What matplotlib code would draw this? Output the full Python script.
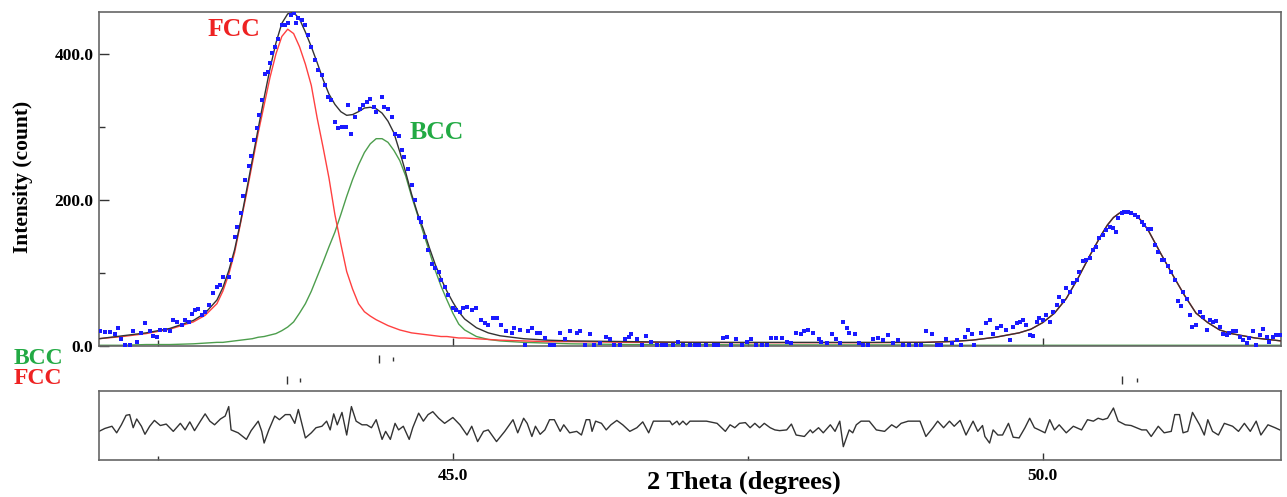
import matplotlib
matplotlib.use("Agg")
import matplotlib.pyplot as plt
from matplotlib.ticker import FixedLocator, FormatStrFormatter, NullFormatter

# 2-theta grid used for the calculated profiles
curve_2theta = [42.00, 42.20, 42.40, 42.60, 42.80, 42.90, 43.00, 43.05, 43.10, 43.15,
                43.20, 43.25, 43.30, 43.35, 43.40, 43.45, 43.50, 43.55, 43.60, 43.65,
                43.70, 43.75, 43.80, 43.85, 43.90, 43.95, 44.00, 44.05, 44.10, 44.15,
                44.20, 44.25, 44.30, 44.35, 44.40, 44.45, 44.50, 44.55, 44.60, 44.65,
                44.70, 44.75, 44.80, 44.85, 44.90, 44.95, 45.00, 45.05, 45.10, 45.20,
                45.30, 45.40, 45.60, 45.80, 46.00, 46.50, 47.00, 47.50, 48.00, 48.50,
                49.00, 49.20, 49.40, 49.60, 49.80, 49.90, 50.00, 50.10, 50.20, 50.30,
                50.40, 50.50, 50.55, 50.60, 50.65, 50.70, 50.75, 50.80, 50.85, 50.90,
                51.00, 51.10, 51.20, 51.30, 51.40, 51.50, 51.60, 51.80, 52.02]

total_calc = [10, 14, 18, 24, 35, 45, 63, 80, 103, 132,
              170, 212, 255, 298, 340, 380, 415, 442, 455, 457,
              448, 430, 410, 388, 365, 345, 331, 321, 316, 317,
              321, 326, 327, 325, 319, 308, 292, 266, 238, 208,
              182, 160, 135, 112, 92, 75, 60, 47, 37, 25,
              18, 14, 10, 8, 7, 6, 5, 5, 5, 5,
              5, 6, 8, 12, 18, 23, 32, 45, 65, 93,
              124, 153, 166, 176, 182, 185, 183, 178, 169, 157,
              127, 98, 70, 45, 32, 22, 17, 11, 7]

fcc_calc = [10, 13, 17, 23, 33, 42, 58, 75, 98, 128,
            168, 208, 250, 292, 330, 368, 400, 424, 434, 428,
            410, 386, 357, 312, 272, 230, 180, 140, 102, 78,
            58, 47, 41, 36, 32, 28, 25, 22, 20, 18,
            17, 16, 15, 14, 13, 13, 12, 11, 11, 10,
            9, 8, 7, 6, 6, 5, 5, 4.5, 4.5, 4.5,
            5, 6, 8, 12, 18, 23, 32, 45, 65, 93,
            124, 153, 166, 176, 182, 185, 183, 178, 169, 157,
            127, 98, 70, 45, 32, 22, 17, 11, 7]

bcc_calc = [1, 1, 2, 2, 3, 4, 5, 5, 6, 7,
            8, 9, 10, 12, 13, 15, 17, 21, 26, 33,
            45, 58, 75, 95, 115, 136, 156, 180, 205, 228,
            248, 265, 277, 284, 284, 279, 268, 254, 233, 205,
            180, 155, 130, 104, 82, 63, 45, 30, 22, 13,
            9, 7, 5, 4, 3, 2, 2, 1.5, 1.5, 1.5,
            1.5, 1, 1, 1, 1, 1, 1, 1, 1, 1,
            1, 1, 1, 1, 1, 1, 1, 1, 1, 1,
            1, 1, 1, 1, 1, 1, 1, 1, 1]

# observed intensities (blue points)
obs_2theta = [42.01, 42.05, 42.09, 42.14, 42.16, 42.19, 42.22, 42.26, 42.29, 42.32,
              42.36, 42.39, 42.43, 42.46, 42.49, 42.52, 42.56, 42.60, 42.63, 42.66,
              42.70, 42.73, 42.76, 42.79, 42.81, 42.84, 42.87, 42.90, 42.93, 42.97,
              43.00, 43.03, 43.05, 43.10, 43.12, 43.15, 43.17, 43.20, 43.22, 43.24,
              43.27, 43.29, 43.31, 43.34, 43.36, 43.38, 43.41, 43.43, 43.45, 43.47,
              43.49, 43.52, 43.55, 43.58, 43.60, 43.63, 43.65, 43.67, 43.69, 43.72,
              43.75, 43.77, 43.80, 43.83, 43.86, 43.89, 43.92, 43.94, 43.97, 44.00,
              44.03, 44.06, 44.09, 44.11, 44.14, 44.17, 44.21, 44.24, 44.27, 44.30,
              44.33, 44.35, 44.40, 44.42, 44.45, 44.48, 44.51, 44.54, 44.57, 44.59,
              44.62, 44.65, 44.68, 44.71, 44.73, 44.76, 44.79, 44.82, 44.85, 44.88,
              44.90, 44.93, 44.96,
              45.00, 45.03, 45.06, 45.09, 45.12, 45.16, 45.20, 45.24, 45.27, 45.30,
              45.34, 45.37, 45.41, 45.45, 45.50, 45.52, 45.57, 45.61, 45.64, 45.67,
              45.71, 45.74, 45.78, 45.82, 45.86, 45.91, 45.95, 45.99, 46.05, 46.08,
              46.12, 46.16, 46.20, 46.25, 46.30, 46.33, 46.37, 46.42, 46.46, 46.49,
              46.51, 46.56, 46.60, 46.64, 46.68, 46.73, 46.77, 46.81, 46.87, 46.91,
              46.95, 47.01, 47.05, 47.09, 47.15, 47.21, 47.25, 47.29, 47.32, 47.36,
              47.40, 47.45, 47.49, 47.53, 47.57, 47.62, 47.66, 47.70, 47.74, 47.79,
              47.83, 47.87, 47.91, 47.95, 47.98, 48.01, 48.05, 48.10, 48.12, 48.17,
              48.21, 48.25, 48.28, 48.31, 48.34, 48.36, 48.41, 48.44, 48.48, 48.52,
              48.56, 48.60,
              48.65, 48.69, 48.73, 48.77, 48.82, 48.87, 48.93, 48.97, 49.01, 49.06,
              49.10, 49.14, 49.18, 49.23, 49.27, 49.31, 49.34, 49.37, 49.40, 49.42,
              49.48, 49.52, 49.55, 49.58, 49.61, 49.65, 49.69, 49.72, 49.75, 49.78,
              49.81, 49.83, 49.86, 49.89, 49.92, 49.95, 49.97, 50.00, 50.03, 50.06,
              50.09, 50.12, 50.14, 50.17, 50.20, 50.23, 50.26, 50.29, 50.31, 50.34,
              50.37, 50.40, 50.43, 50.45, 50.48, 50.51, 50.54, 50.57, 50.60, 50.62,
              50.64, 50.67, 50.69, 50.72, 50.75, 50.78, 50.81, 50.84, 50.86, 50.89,
              50.92, 50.95, 50.98, 51.01, 51.03, 51.06, 51.09, 51.12, 51.15, 51.17,
              51.19, 51.22, 51.25, 51.27, 51.30, 51.33, 51.36, 51.39, 51.42, 51.44,
              51.47, 51.50, 51.53, 51.56, 51.58, 51.61, 51.64, 51.67, 51.70, 51.73,
              51.75, 51.78, 51.81, 51.84, 51.87, 51.90, 51.92, 51.95, 51.98, 52.01]

obs_counts = [20, 19, 19, 17, 25, 9, 1, 1, 21, 6,
              18, 31, 20, 14, 13, 22, 22, 21, 35, 33,
              29, 36, 33, 44, 50, 51, 42, 47, 56, 72,
              81, 84, 95, 95, 118, 150, 163, 182, 205, 227,
              246, 260, 282, 298, 316, 337, 373, 376, 387, 401,
              410, 421, 440, 440, 442, 454, 456, 442, 449, 446,
              440, 426, 410, 392, 378, 371, 357, 341, 337, 307,
              298, 300, 300, 330, 291, 314, 325, 330, 334, 339,
              328, 321, 341, 327, 325, 314, 291, 287, 268, 259,
              243, 220, 200, 175, 170, 150, 131, 113, 107, 102,
              90, 81, 70,
              52, 49, 47, 52, 54, 49, 52, 36, 31, 29,
              38, 38, 29, 20, 18, 25, 22, 1, 20, 25,
              18, 18, 11, 1, 1, 18, 9, 20, 18, 20,
              1, 16, 1, 4, 13, 9, 1, 1, 9, 13,
              16, 9, 1, 14, 6, 1, 1, 1, 1, 5,
              1, 1, 1, 1, 1, 1, 1, 11, 13, 1,
              9, 1, 6, 9, 1, 1, 1, 11, 11, 11,
              6, 4, 18, 16, 20, 22, 18, 9, 6, 4,
              16, 9, 4, 33, 25, 18, 16, 4, 1, 1,
              9, 11,
              8, 15, 4, 8, 2, 1, 1, 1, 21, 17,
              1, 1, 9, 4, 8, 1, 13, 22, 16, 2,
              18, 31, 36, 16, 24, 28, 22, 8, 26, 31,
              33, 36, 29, 15, 14, 33, 38, 36, 42, 33,
              47, 56, 67, 61, 79, 74, 86, 90, 102, 116,
              118, 120, 132, 136, 148, 152, 159, 163, 161, 156,
              175, 182, 184, 183, 182, 180, 177, 170, 166, 160,
              160, 138, 129, 118, 118, 109, 102, 90, 61, 55,
              74, 65, 42, 26, 29, 47, 40, 22, 36, 33,
              34, 26, 17, 15, 18, 20, 20, 13, 8, 4,
              11, 20, 1, 15, 23, 13, 6, 13, 15, 15]

# difference curve (observed - calculated)
diff_2theta = [42.00, 42.05, 42.11, 42.15, 42.19, 42.23, 42.26, 42.29, 42.32, 42.36,
               42.39, 42.43, 42.47, 42.52, 42.57, 42.63, 42.69, 42.73, 42.77, 42.81,
               42.86, 42.90, 42.94, 42.98, 43.03, 43.07, 43.10, 43.12, 43.18, 43.25,
               43.29, 43.35, 43.38, 43.40, 43.44, 43.49, 43.53, 43.58, 43.62, 43.66,
               43.69, 43.75, 43.80, 43.84, 43.89, 43.93, 43.96, 43.99, 44.02, 44.06,
               44.10, 44.14, 44.18, 44.23, 44.27, 44.31, 44.35, 44.40, 44.43, 44.47,
               44.51, 44.54, 44.58, 44.63, 44.66, 44.71, 44.75, 44.79, 44.83, 44.88,
               44.93, 45.00, 45.06, 45.12, 45.16, 45.21, 45.26, 45.30,
               45.37, 45.44, 45.51, 45.55, 45.60, 45.63, 45.67, 45.70, 45.74, 45.78,
               45.82, 45.86, 45.91, 45.94, 45.99, 46.05, 46.09, 46.13, 46.16, 46.18,
               46.21, 46.26, 46.30, 46.34, 46.39, 46.44, 46.50, 46.56, 46.61, 46.66,
               46.70, 46.73, 46.84, 46.86, 46.90, 46.92, 46.95, 46.98, 47.01, 47.15,
               47.24, 47.31, 47.35, 47.39, 47.43, 47.48, 47.52, 47.56, 47.60, 47.64,
               47.69, 47.73, 47.77, 47.83, 47.87, 47.91, 47.98, 48.03, 48.05, 48.10,
               48.14, 48.20, 48.24, 48.28, 48.31, 48.36, 48.39, 48.42, 48.46, 48.53,
               48.59,
               48.66, 48.72, 48.76, 48.80, 48.86, 48.96, 49.01, 49.07, 49.11, 49.16,
               49.21, 49.25, 49.30, 49.35, 49.41, 49.45, 49.49, 49.51, 49.55, 49.58,
               49.62, 49.66, 49.71, 49.75, 49.80, 49.85, 49.89, 49.93, 49.97, 50.02,
               50.06, 50.10, 50.14, 50.20, 50.26, 50.33, 50.38, 50.43, 50.47, 50.51,
               50.55, 50.60, 50.64, 50.70, 50.75, 50.84, 50.88, 50.92, 50.98, 51.03,
               51.09, 51.12, 51.16, 51.19, 51.23, 51.27, 51.33, 51.37, 51.40, 51.44,
               51.49, 51.54, 51.61, 51.66, 51.71, 51.76, 51.81, 51.85, 51.91, 51.97,
               52.01]

diff_counts = [-8, -4, -1, -10, 1, 14, 15, -3, 9, -1,
               -12, -1, 7, 0, 2, -8, 3, -6, 5, -7,
               6, 16, 6, 1, 9, 13, 26, -6, -10, -19,
               -7, 6, -8, -24, -6, 13, 8, 15, 15, 3,
               22, -17, -10, -3, -1, 6, -6, 16, 1, 18,
               -13, 26, 6, 1, 1, -3, 8, -19, -8, -19,
               3, -6, -1, -19, -3, 17, 6, 15, 19, 10,
               3, 11, 1, -13, -1, -22, -8, -6,
               -22, -8, 8, -10, 10, 3, -15, -1, -12, -6,
               8, 8, -8, 1, -10, -8, -13, 8, 8, -8,
               6, 3, -6, 1, 7, 1, -8, -3, 5, -10,
               6, 6, 6, 1, 6, 1, 6, 1, 6, 6,
               3, -8, 1, -3, 3, 4, -3, 3, -3, 3,
               -3, -6, -7, -6, 2, -13, -15, -6, -10, -3,
               -10, 1, -8, 6, -29, -6, -10, 1, 6, 6,
               -6,
               -8, 1, -3, 3, 6, 6, -15, -3, 6, -3,
               6, -1, 7, -13, 6, -8, 0, -15, -24, -6,
               -13, -13, 3, -16, -17, -3, 10, -3, -6, -10,
               8, -6, 1, -10, -1, -6, 8, 6, 10, 8,
               10, 24, 6, 1, 0, -6, -6, -15, -1, -10,
               -8, 15, 15, -10, -8, 18, 1, -13, 8, -8,
               -13, 3, -1, -8, 3, -8, 6, -13, 1, -3,
               -6]

# peak position markers (K-alpha1 / K-alpha2)
fcc_marks = [43.59, 43.70, 50.67, 50.80]
bcc_marks = [44.37, 44.49]
phase_labels = ["FCC", "BCC"]

RED = "#ff4040"
GREEN = "#4d9e4d"
FCC_TXT = "#ee2222"
BCC_TXT = "#22aa44"
FRAME = "#666666"

plt.rcParams["font.family"] = ["Liberation Serif", "DejaVu Serif"]
plt.rcParams["font.weight"] = "bold"

fig = plt.figure(figsize=(12.87, 4.97), dpi=100)
ax = fig.add_axes([0.0769, 0.3038, 0.9184, 0.6720])
ax_ref = fig.add_axes([0.0769, 0.2133, 0.9184, 0.0905])
ax_diff = fig.add_axes([0.0769, 0.0744, 0.9184, 0.1388])

x_range = (42.0, 52.02)

# main pattern
ax.plot(curve_2theta, bcc_calc, color=GREEN, lw=1.0, zorder=2)
ax.plot(curve_2theta, fcc_calc, color=RED, lw=1.0, zorder=3)
ax.plot(curve_2theta, total_calc, color="#333333", lw=1.0, zorder=4)
ax.plot(obs_2theta, obs_counts, ls="none", marker="s", ms=2.2, mew=0,
        color="#1a1aff", zorder=5)
ax.set_xlim(*x_range)
ax.set_ylim(0, 457.5)

ax.text(43.14, 433, phase_labels[0], color=FCC_TXT, fontsize=18.5,
        fontweight="bold", ha="center", va="center")
ax.text(44.86, 292, phase_labels[1], color=BCC_TXT, fontsize=18.5,
        fontweight="bold", ha="center", va="center")

ax.yaxis.set_major_locator(FixedLocator([0, 200, 400]))
ax.yaxis.set_minor_locator(FixedLocator([100, 300]))
ax.yaxis.set_major_formatter(FormatStrFormatter("%.1f"))
ax.xaxis.set_major_locator(FixedLocator([45, 50]))
ax.xaxis.set_minor_locator(FixedLocator([42.5, 47.5]))
ax.xaxis.set_major_formatter(NullFormatter())
ax.tick_params(axis="both", which="both", direction="in", colors="#333333",
               top=False, right=False)
ax.tick_params(axis="y", which="major", length=7, width=1, pad=4,
               labelsize=12.5, labelcolor="black")
ax.tick_params(axis="y", which="minor", length=4, width=1)
ax.tick_params(axis="x", which="major", length=6, width=1)
ax.tick_params(axis="x", which="minor", length=4, width=1)
ax.set_ylabel("Intensity (count)", fontsize=15.5, fontweight="bold")
ax.yaxis.set_label_coords(-0.064, 0.506)
ax.yaxis.label.set_va("center")

# reflection markers strip
ax_ref.set_xlim(*x_range)
ax_ref.set_ylim(0, 45)
ax_ref.axis("off")
ax_ref.vlines(bcc_marks[0::2], 28, 36, color="#333333", lw=1)
ax_ref.vlines(bcc_marks[1::2], 30, 34, color="#333333", lw=1)
ax_ref.vlines(fcc_marks[0::2], 7, 15, color="#333333", lw=1)
ax_ref.vlines(fcc_marks[1::2], 9, 13, color="#333333", lw=1)
fig.text(14 / 1287, 1 - 358 / 497, phase_labels[1], color=BCC_TXT, fontsize=17,
         fontweight="bold", va="center", ha="left")
fig.text(14 / 1287, 1 - 379 / 497, phase_labels[0], color=FCC_TXT, fontsize=17,
         fontweight="bold", va="center", ha="left")

# difference panel
ax_diff.plot(diff_2theta, diff_counts, color="#333333", lw=1.0)
ax_diff.set_xlim(*x_range)
ax_diff.set_ylim(-47.3, 47.3)
ax_diff.set_yticks([])
ax_diff.xaxis.set_major_locator(FixedLocator([45, 50]))
ax_diff.xaxis.set_minor_locator(FixedLocator([42.5, 47.5]))
ax_diff.xaxis.set_major_formatter(FormatStrFormatter("%.1f"))
ax_diff.tick_params(axis="x", which="both", direction="in", colors="#333333",
                    top=False)
ax_diff.tick_params(axis="x", which="major", length=5, width=1, pad=6,
                    labelsize=12.5, labelcolor="black")
ax_diff.tick_params(axis="x", which="minor", length=3, width=1)
ax_diff.set_xlabel("2 Theta (degrees)", fontsize=19, fontweight="bold")
ax_diff.xaxis.set_label_coords(0.5457, -0.32)
ax_diff.xaxis.label.set_va("center")

for a in (ax, ax_diff):
    for s in a.spines.values():
        s.set_color(FRAME)
        s.set_linewidth(1.2)

fig.savefig("out.png", dpi=100)
